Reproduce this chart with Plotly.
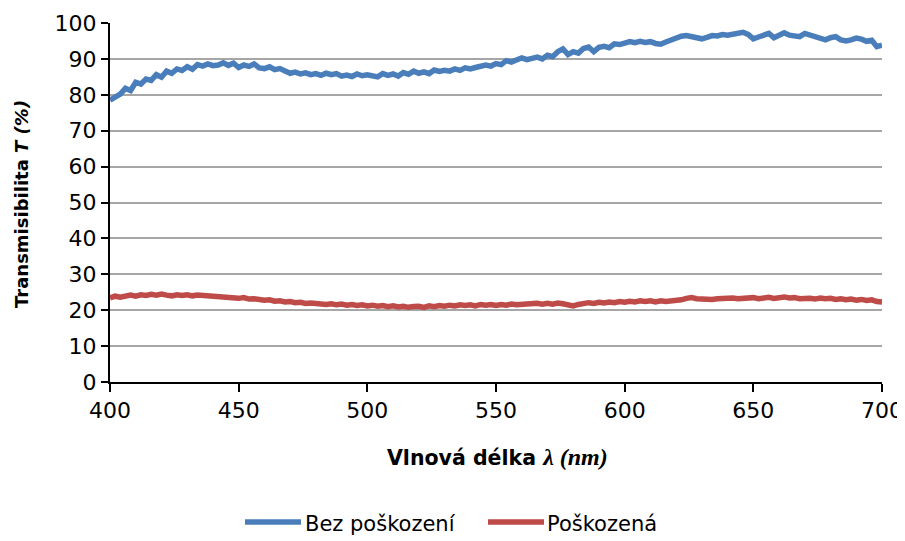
import plotly.graph_objects as go

wavelength = list(range(400, 701, 2))

bez_poskozeni = [
    78.5, 79.5, 80.2, 81.8, 81.2, 83.5, 83.0, 84.4, 84.0, 85.6,
    84.9, 86.6, 86.0, 87.2, 86.8, 87.8, 87.1, 88.4, 88.0, 88.6,
    88.1, 88.3, 88.9, 88.2, 88.8, 87.6, 88.3, 87.9, 88.6, 87.5,
    87.3, 87.8, 87.0, 87.3, 86.5, 86.0, 86.3, 85.8, 86.1, 85.6,
    85.9, 85.4, 86.0, 85.6, 85.9, 85.2, 85.5, 85.1, 85.8, 85.3,
    85.6, 85.1, 85.0, 85.9, 85.4, 85.8, 85.2, 86.2, 85.7, 86.6,
    86.0, 86.4, 85.9, 86.9, 86.5, 86.8, 86.6, 87.2, 86.8, 87.5,
    87.2, 87.6, 88.0, 88.3, 88.0, 88.7, 88.4, 89.5, 89.1, 89.6,
    90.3, 89.8, 90.2, 90.5, 90.0, 91.0, 90.6, 92.0, 92.8, 91.2,
    92.0, 91.6, 92.9, 93.3, 92.0, 93.2, 93.5, 93.1, 94.2, 94.0,
    94.4, 94.8, 94.5, 94.9, 94.6, 94.8, 94.3, 94.1, 94.7, 95.3,
    95.6, 96.3, 96.5, 96.2, 96.1, 95.6, 96.0, 96.5, 96.4, 96.8,
    96.6, 96.9, 97.3, 97.4, 96.8, 95.6, 96.1, 96.7, 97.1, 95.9,
    96.8, 97.3, 96.6, 96.5, 96.2, 97.1, 96.6, 96.2, 95.9, 95.3,
    95.9, 96.2, 95.3, 95.0, 95.3, 95.8, 95.5, 94.9, 95.2, 93.4,
    93.8,
]

poskozena = [
    23.4, 23.9, 23.6, 24.0, 24.2, 23.9, 24.3, 24.1, 24.4, 24.2,
    24.5, 24.2, 24.0, 24.3, 24.1, 24.3, 24.0, 24.2, 24.1, 23.8,
    23.9, 23.6, 23.8, 23.4, 23.6, 23.3, 23.5, 23.1, 23.2, 22.9,
    22.8, 22.9, 22.5, 22.6, 22.3, 22.4, 22.1, 22.2, 21.9, 22.0,
    21.8, 21.9, 21.6, 21.8, 21.5, 21.7, 21.4, 21.6, 21.3, 21.5,
    21.2, 21.4, 21.1, 21.3, 21.0, 21.2, 20.9, 21.1, 20.8, 21.0,
    21.1, 20.8, 21.2, 21.0, 21.3, 21.1, 21.4, 21.2, 21.5, 21.3,
    21.5, 21.2, 21.6, 21.4, 21.6, 21.3, 21.6, 21.4, 21.7, 21.5,
    21.6, 21.8, 21.6, 21.9, 21.7, 21.9, 21.7, 22.0, 21.8, 21.5,
    21.2, 21.6, 21.9, 22.1, 21.9, 22.2, 22.0, 22.3, 22.1, 22.4,
    22.2, 22.5, 22.3, 22.6, 22.4, 22.6, 22.3, 22.6, 22.4, 22.5,
    22.6, 22.9, 23.3, 23.5, 23.2, 23.1, 23.3, 23.0, 23.2, 23.3,
    23.1, 23.4, 23.2, 23.4, 23.3, 23.5, 23.2, 23.4, 23.6, 23.3,
    23.6, 23.7, 23.4, 23.5, 23.2, 23.4, 23.3, 23.1, 23.4, 23.2,
    23.3, 23.0, 23.2, 22.9, 23.1, 22.8, 23.0, 22.7, 22.9, 22.4,
    22.3,
]

x_ticks = [400, 450, 500, 550, 600, 650, 700]
y_ticks = [0, 10, 20, 30, 40, 50, 60, 70, 80, 90, 100]
series_names = ["Bez poškození", "Poškozená"]
series_colors = ["#4a7ebb", "#be4b48"]

FONT = "'DejaVu Sans', sans-serif"
OFF = 8  # page body margin
W, H = 905 - OFF, 541 - OFF
# plot area in window pixels: x 110..882, y 23..382
L, R, T, B = 110 - OFF, 23, 23 - OFF, 159

fig = go.Figure()
for name, vals, col in zip(series_names, [bez_poskozeni, poskozena], series_colors):
    fig.add_trace(go.Scatter(x=wavelength, y=vals, mode="lines", name=name,
                             showlegend=False,
                             line=dict(color=col, width=5.5)))

# helpers: window pixel -> paper coordinates
def px_x(p):
    return (p - OFF - L) / (W - L - R)

def px_y(p):
    return (H - B - (p - OFF)) / (H - T - B)

legend_items = [(245, 301, 303), (488, 544, 545)]
for (x0, x1, xt), name, col in zip(legend_items, series_names, series_colors):
    fig.add_shape(type="line", xref="paper", yref="paper",
                  x0=px_x(x0), x1=px_x(x1), y0=px_y(522), y1=px_y(522),
                  line=dict(color=col, width=5.5))
    fig.add_annotation(xref="paper", yref="paper", x=px_x(xt), y=px_y(524),
                       xanchor="left", yanchor="middle", showarrow=False,
                       text=name, font=dict(family=FONT, size=21, color="black"))

fig.add_annotation(xref="paper", yref="paper", x=px_x(497), y=px_y(457),
                   xanchor="center", yanchor="middle", showarrow=False,
                   text="<b>Vlnová délka <span style='font-family:\"Liberation Serif\", serif; font-size:24px'><i>λ (nm)</i></span></b>",
                   font=dict(family=FONT, size=20.5, color="black"))
fig.add_annotation(xref="paper", yref="paper", x=px_x(22), y=px_y(204),
                   xanchor="center", yanchor="middle", showarrow=False, textangle=-90,
                   text="<b>Transmisibilita <i>T (%)</i></b>",
                   font=dict(family=FONT, size=18, color="black"))

fig.update_layout(
    width=W, height=H,
    paper_bgcolor="white", plot_bgcolor="white",
    margin=dict(l=L, r=R, t=T, b=B, autoexpand=False),
    font=dict(family=FONT, size=22, color="black"),
    showlegend=False,
    xaxis=dict(
        range=[400, 700], tickvals=x_ticks, ticktext=[str(v) for v in x_ticks],
        showline=True, linecolor="black", linewidth=2,
        ticks="outside", ticklen=8, tickwidth=2, tickcolor="black",
        showgrid=False, zeroline=False, automargin=False,
    ),
    yaxis=dict(
        range=[0, 100], tickvals=y_ticks, ticktext=[str(v) for v in y_ticks],
        showline=True, linecolor="black", linewidth=2,
        ticks="outside", ticklen=7, tickwidth=2, tickcolor="black",
        showgrid=True, gridcolor="#a6a6a6", gridwidth=1.5, zeroline=False,
        automargin=False,
    ),
)

fig.write_html("out.html")
